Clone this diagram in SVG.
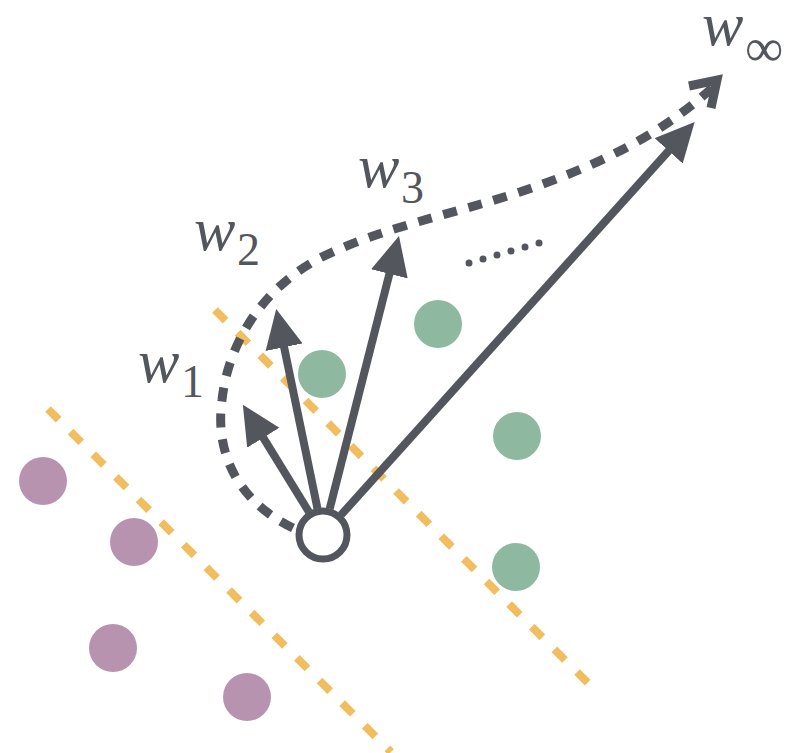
<svg xmlns="http://www.w3.org/2000/svg" width="798" height="753" viewBox="0 0 798 753">
<defs>
<style>
.sep{stroke:#f2bd5e;stroke-width:8;stroke-dasharray:15 17;fill:none}
.pos{fill:#8fb8a1}
.neg{fill:#b893af}
.vec{stroke:#53575d;stroke-width:8;fill:none;marker-end:url(#head)}
.path{stroke:#53575d;stroke-width:9;stroke-dasharray:14 12;fill:none}
text{font-family:'Liberation Serif','Times New Roman',serif;fill:#53575d}
.w{font-style:italic;font-size:62px}
.sub{font-size:46px}
</style>
<marker id="head" markerUnits="userSpaceOnUse" markerWidth="40" markerHeight="40" viewBox="0 0 36 36" refX="8" refY="17" orient="auto">
<path d="M0,0 L35,17 L0,34 Z" fill="#53575d"/>
</marker>
</defs>
<rect width="798" height="753" fill="#ffffff"/>
<g id="separators">
<line class="sep" x1="48" y1="409" x2="391" y2="752"/>
<line class="sep" x1="215" y1="310" x2="588" y2="683"/>
</g>
<g id="negatives">
<circle class="neg" cx="43" cy="481" r="24"/>
<circle class="neg" cx="134" cy="542" r="24"/>
<circle class="neg" cx="113" cy="648" r="24"/>
<circle class="neg" cx="247" cy="697" r="24"/>
</g>
<g id="positives">
<circle class="pos" cx="322" cy="374" r="24"/>
<circle class="pos" cx="438" cy="324" r="24"/>
<circle class="pos" cx="517" cy="436" r="24"/>
<circle class="pos" cx="516" cy="567" r="24"/>
</g>
<g id="connectors">
<line id="v1" class="vec" x1="309" y1="512" x2="258.6" y2="430.2"/>
<line id="v2" class="vec" x1="317.5" y1="508.6" x2="282.3" y2="338.5"/>
<line id="v3" class="vec" x1="329.7" y1="508.8" x2="391.6" y2="265.2"/>
<line id="vinf" class="vec" x1="341.1" y1="514.9" x2="674.6" y2="144.3"/>
<path id="trajectory" class="path" d="M293,528 C235,500 215,450 222,400 C228,345 260,290 320,258 C380,228 450,215 520,192 C600,165 660,135 712,88"/>
<polyline points="689,86 717,80 711,108" fill="none" stroke="#53575d" stroke-width="9"/>
<line id="dots" x1="469" y1="263" x2="539" y2="243" stroke="#53575d" stroke-width="7" stroke-linecap="round" stroke-dasharray="0 14.56"/>
</g>
<g id="origin">
<circle cx="323" cy="535" r="24" fill="#ffffff" stroke="#53575d" stroke-width="7"/>
</g>
<g id="label-w1"><text class="w" x="138" y="382">w</text><text class="sub" x="181" y="397">1</text></g>
<g id="label-w2"><text class="w" x="194" y="250">w</text><text class="sub" x="237" y="265">2</text></g>
<g id="label-w3"><text class="w" x="358" y="187">w</text><text class="sub" x="401" y="203">3</text></g>
<g id="label-winf"><text class="w" x="702" y="45">w</text><text class="sub" x="745" y="66" style="font-size:54px">∞</text></g>
</svg>
